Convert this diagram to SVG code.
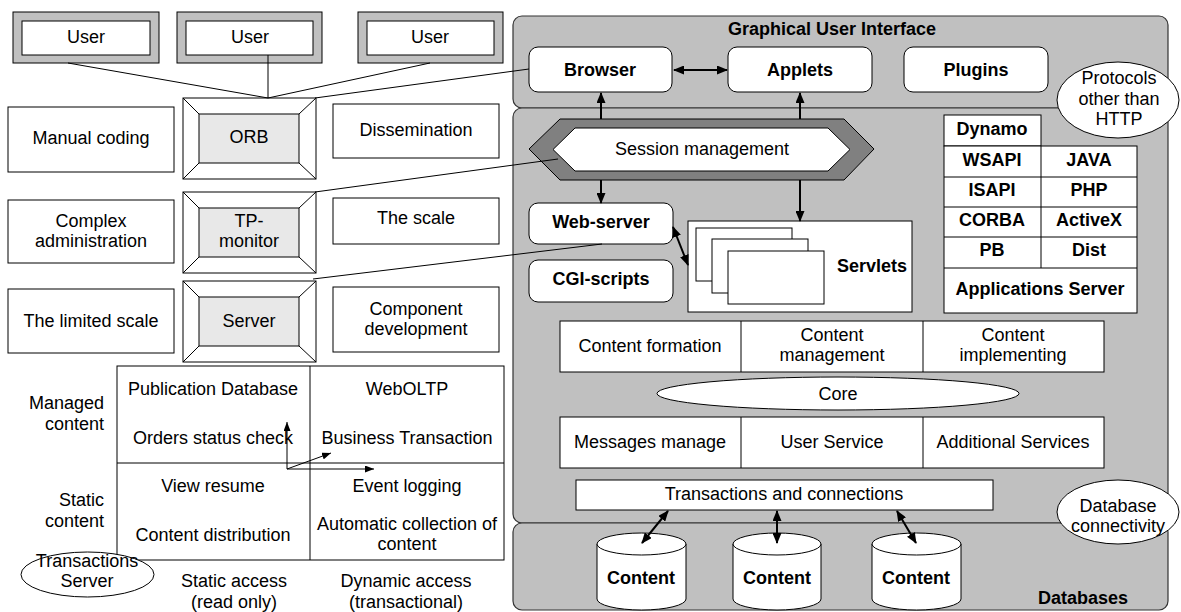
<svg xmlns="http://www.w3.org/2000/svg" width="1181" height="612" viewBox="0 0 1181 612">
<defs>
<style>
text{font-family:"Liberation Sans",Arial,sans-serif;font-size:18px;fill:#000;text-anchor:middle}
.b{font-weight:bold}
.l{text-anchor:end}
.box{fill:#fff;stroke:#000;stroke-width:1}
.panel{fill:#c0c0c0;stroke:#333;stroke-width:1.2}
.rbox{fill:#fff;stroke:#000;stroke-width:1}
.ln{fill:none;stroke:#000;stroke-width:1}
.ar{fill:none;stroke:#000;stroke-width:2}
.ar1{fill:none;stroke:#000;stroke-width:1}
</style>
<marker id="ah" markerUnits="userSpaceOnUse" markerWidth="11" markerHeight="9" refX="10" refY="4.5" orient="auto-start-reverse"><path d="M0,0 L11,4.5 L0,9 z" fill="#000"/></marker>
<marker id="sh" markerUnits="userSpaceOnUse" markerWidth="9" markerHeight="7" refX="9" refY="3.5" orient="auto"><path d="M0,0 L9,3.5 L0,7 z" fill="#000"/></marker>
</defs>
<rect width="1181" height="612" fill="#fff"/>

<!-- Right panels -->
<g id="gui-panel"><rect class="panel" x="513" y="16" width="655" height="92" rx="9"/><text class="b" x="832" y="35">Graphical User Interface</text></g>
<g id="main-panel"><rect class="panel" x="513" y="108" width="655" height="415" rx="9"/></g>
<g id="db-panel"><rect class="panel" x="513" y="523" width="655" height="87" rx="9"/><text class="b" x="1083" y="604">Databases</text></g>

<!-- Users -->
<g id="user1"><rect x="13" y="12" width="146" height="51" fill="#c0c0c0" stroke="#000"/><rect class="box" x="22" y="21" width="128" height="34"/><text x="86" y="43">User</text></g>
<g id="user2"><rect x="177" y="12" width="145" height="51" fill="#c0c0c0" stroke="#000"/><rect class="box" x="186" y="21" width="127" height="34"/><text x="250" y="43">User</text></g>
<g id="user3"><rect x="358" y="12" width="145" height="51" fill="#c0c0c0" stroke="#000"/><rect class="box" x="367" y="21" width="127" height="34"/><text x="430" y="43">User</text></g>

<!-- Left column -->
<g id="manual-coding"><rect class="box" x="8" y="107" width="166" height="65"/><text x="91" y="144">Manual coding</text></g>
<g id="dissemination"><rect class="box" x="333" y="104" width="166" height="54"/><text x="416" y="136">Dissemination</text></g>
<g id="complex-admin"><rect class="box" x="8" y="200" width="166" height="63"/><text x="91" y="227">Complex</text><text x="91" y="247">administration</text></g>
<g id="the-scale"><rect class="box" x="333" y="198" width="166" height="46"/><text x="416" y="224">The scale</text></g>
<g id="limited-scale"><rect class="box" x="8" y="289" width="166" height="64"/><text x="91" y="327">The limited scale</text></g>
<g id="component-dev"><rect class="box" x="333" y="287" width="166" height="65"/><text x="416" y="315">Component</text><text x="416" y="335">development</text></g>

<g id="orb"><rect class="box" x="183" y="98" width="133" height="81"/><rect x="199" y="114" width="100" height="49" fill="#e8e8e8" stroke="#000"/><path class="ln" d="M183,98 L199,114 M316,98 L299,114 M183,179 L199,163 M316,179 L299,163"/><text x="249" y="143">ORB</text></g>
<g id="tp-monitor"><rect class="box" x="183" y="192" width="133" height="81"/><rect x="199" y="208" width="100" height="49" fill="#e8e8e8" stroke="#000"/><path class="ln" d="M183,192 L199,208 M316,192 L299,208 M183,273 L199,257 M316,273 L299,257"/><text x="249" y="227">TP-</text><text x="249" y="247">monitor</text></g>
<g id="server"><rect class="box" x="183" y="281" width="133" height="81"/><rect x="199" y="297" width="100" height="49" fill="#e8e8e8" stroke="#000"/><path class="ln" d="M183,281 L199,297 M316,281 L299,297 M183,362 L199,346 M316,362 L299,346"/><text x="249" y="327">Server</text></g>

<!-- Quadrant -->
<g id="quadrant">
<rect class="box" x="117" y="366" width="387" height="194"/>
<path class="ln" d="M310,366 L310,560 M117,463 L504,463"/>
<text x="213" y="395">Publication Database</text>
<text x="213" y="444">Orders status check</text>
<text x="407" y="395">WebOLTP</text>
<text x="407" y="444">Business Transaction</text>
<text x="213" y="492">View resume</text>
<text x="213" y="541">Content distribution</text>
<text x="407" y="492">Event logging</text>
<text x="407" y="530">Automatic collection of</text>
<text x="407" y="550">content</text>
</g>
<g id="axis-labels">
<text class="l" x="104" y="409">Managed</text><text class="l" x="104" y="430">content</text>
<text class="l" x="104" y="506">Static</text><text class="l" x="104" y="527">content</text>
<text x="234" y="587">Static access</text><text x="234" y="608">(read only)</text>
<text x="406" y="587">Dynamic access</text><text x="406" y="608">(transactional)</text>
</g>
<g id="transactions-server"><ellipse cx="87.5" cy="574.5" rx="66.5" ry="22.5" fill="#fff" stroke="#000"/><text x="87" y="567">Transactions</text><text x="87" y="587">Server</text></g>

<!-- GUI -->
<g id="browser"><rect class="rbox" x="529" y="47" width="143" height="45" rx="9"/><text class="b" x="600" y="76">Browser</text></g>
<g id="applets"><rect class="rbox" x="728" y="47" width="144" height="45" rx="9"/><text class="b" x="800" y="76">Applets</text></g>
<g id="plugins"><rect class="rbox" x="904" y="47" width="144" height="45" rx="9"/><text class="b" x="976" y="76">Plugins</text></g>
<g id="protocols"><ellipse cx="1118" cy="100" rx="61" ry="38" fill="#fff" stroke="#000"/><text x="1119" y="84">Protocols</text><text x="1119" y="105">other than</text><text x="1119" y="125">HTTP</text></g>

<!-- Session -->
<g id="session-management"><polygon points="529,149 560,119 844,119 874,149 844,180 560,180" fill="#808080" stroke="#000"/><polygon points="553,149.5 575,128 828,128 850,149.5 828,171 575,171" fill="#fff" stroke="#000"/><text x="702" y="155">Session management</text></g>

<g id="web-server"><rect class="rbox" x="529" y="203" width="144" height="41" rx="9"/><text class="b" x="601" y="228">Web-server</text></g>
<g id="cgi-scripts"><rect class="rbox" x="529" y="260" width="144" height="42" rx="9"/><text class="b" x="601" y="285">CGI-scripts</text></g>
<g id="servlets"><rect class="box" x="688" y="221" width="224" height="91"/><rect class="box" x="696" y="228" width="96" height="53"/><rect class="box" x="712" y="239" width="96" height="54"/><rect class="box" x="728" y="251" width="96" height="53"/><text class="b" x="872" y="272">Servlets</text></g>

<g id="api-table">
<rect class="box" x="944" y="115" width="97" height="31"/>
<rect class="box" x="944" y="146" width="193" height="167"/>
<path class="ln" d="M944,177 L1137,177 M944,207 L1137,207 M944,237 L1137,237 M944,268 L1137,268 M1041,146 L1041,268"/>
<text class="b" x="992" y="135">Dynamo</text>
<text class="b" x="992" y="166">WSAPI</text><text class="b" x="1089" y="166">JAVA</text>
<text class="b" x="992" y="196">ISAPI</text><text class="b" x="1089" y="196">PHP</text>
<text class="b" x="992" y="226">CORBA</text><text class="b" x="1089" y="226">ActiveX</text>
<text class="b" x="992" y="256">PB</text><text class="b" x="1089" y="256">Dist</text>
<text class="b" x="1040" y="295">Applications Server</text>
</g>

<g id="content-row"><rect class="box" x="560" y="321" width="544" height="51"/><path class="ln" d="M741,321 L741,372 M923,321 L923,372"/><text x="650" y="352">Content formation</text><text x="832" y="341">Content</text><text x="832" y="361">management</text><text x="1013" y="341">Content</text><text x="1013" y="361">implementing</text></g>
<g id="core"><ellipse cx="838" cy="393.5" rx="181" ry="16.5" fill="#fff" stroke="#000"/><text x="838" y="400">Core</text></g>
<g id="services-row"><rect class="box" x="560" y="417" width="544" height="51"/><path class="ln" d="M741,417 L741,468 M923,417 L923,468"/><text x="650" y="448">Messages manage</text><text x="832" y="448">User Service</text><text x="1013" y="448">Additional Services</text></g>
<g id="transactions"><rect class="box" x="576" y="480" width="417" height="30"/><text x="784" y="500">Transactions and connections</text></g>
<g id="db-connectivity"><ellipse cx="1118" cy="512" rx="61" ry="32" fill="#fff" stroke="#000"/><text x="1118" y="512">Database</text><text x="1118" y="532">connectivity</text></g>

<g id="content-db1"><path d="M597,544 L597,599 A44.5,11 0 0,0 686,599 L686,544" fill="#fff" stroke="#000"/><ellipse cx="641.5" cy="544" rx="44.5" ry="11" fill="#fff" stroke="#000"/><text class="b" x="641" y="584">Content</text></g>
<g id="content-db2"><path d="M733,544 L733,599 A44,11 0 0,0 821,599 L821,544" fill="#fff" stroke="#000"/><ellipse cx="777" cy="544" rx="44" ry="11" fill="#fff" stroke="#000"/><text class="b" x="777" y="584">Content</text></g>
<g id="content-db3"><path d="M872,544 L872,599 A44.5,11 0 0,0 961,599 L961,544" fill="#fff" stroke="#000"/><ellipse cx="916.5" cy="544" rx="44.5" ry="11" fill="#fff" stroke="#000"/><text class="b" x="916" y="584">Content</text></g>

<!-- Connectors -->
<g id="connectors">
<path class="ln" d="M68,63 L268,98 M268,55 L268,98 M430,63 L268,98"/>
<path class="ln" d="M315,98 L529,69"/>
<path class="ln" d="M315,192 L558,159"/>
<path class="ln" d="M313,279 L602,244"/>
<path class="ar" d="M674,70 L727,70" marker-start="url(#ah)" marker-end="url(#ah)"/>
<path class="ar" d="M601,119 L601,93" marker-end="url(#ah)"/>
<path class="ar" d="M800,119 L800,93" marker-end="url(#ah)"/>
<path class="ar" d="M601,180 L601,203" marker-end="url(#ah)"/>
<path class="ar" d="M800,180 L800,221" marker-end="url(#ah)"/>
<path class="ar" d="M673,227 L688,265" marker-start="url(#ah)" marker-end="url(#ah)"/>
<path class="ar" d="M668,511 L642,543" marker-start="url(#ah)" marker-end="url(#ah)"/>
<path class="ar" d="M777,511 L777,543" marker-start="url(#ah)" marker-end="url(#ah)"/>
<path class="ar" d="M897,511 L916,543" marker-start="url(#ah)" marker-end="url(#ah)"/>
<path class="ar1" d="M287,469 L287,422" marker-end="url(#sh)"/>
<path class="ar1" d="M287,469 L374,469" marker-end="url(#sh)"/>
<path class="ar1" d="M287,469 L331,453" marker-end="url(#sh)"/>
</g>
</svg>
